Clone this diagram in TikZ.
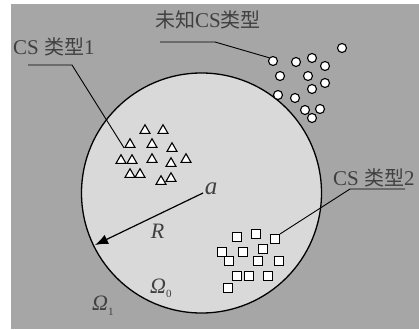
\documentclass[tikz,border=0pt]{standalone}
\usepackage{fontspec}
\setmainfont{Liberation Serif}
\newfontfamily\cjk{Noto Sans CJK SC}
\usetikzlibrary{arrows.meta}
\usetikzlibrary{shapes.geometric}

\begin{document}
\begin{tikzpicture}[x=1pt,y=-1pt,
    tri/.style={regular polygon,regular polygon sides=3,draw,fill=white,line width=1.1pt,inner sep=0pt,minimum size=11.5pt},
    sq/.style={rectangle,draw,fill=white,line width=1.1pt,inner sep=0pt,minimum size=9pt},
    dot/.style={circle,draw,fill=white,line width=1.1pt,inner sep=0pt,minimum size=9pt},
    lbl/.style={anchor=base west,inner sep=0pt,text=black!75,font=\fontsize{21}{24}\selectfont},
    sym/.style={inner sep=0pt,text=black!75,font=\fontsize{22}{26}\selectfont\itshape}]
    \useasboundingbox (0,0) rectangle (419,329);
    \fill[black!35] (11,4) rectangle (419,329);
    \draw[fill=black!15,line width=1.3pt] (201.5,193) circle (120);
    \foreach \i/\x/\y in {1/145/130.5,2/163/130.5,3/130/144.5,4/152/144.5,5/172/148.5,
        6/121/160.5,7/132/160.5,8/152/159.5,9/171/163.5,10/186/159.5,
        11/130/174.5,12/140/174.5,13/161/181.5,14/171/178.5}
      \node[tri] (t\i) at (\x,\y) {};
    \foreach \i/\x/\y in {1/273/61,2/296/62,3/312/58,4/325/66,5/342/48,6/280/76,7/308/76,
        8/325/83,9/312/89,10/278/95,11/295/98,12/305/110,13/320/109,14/312/118}
      \node[dot] (c\i) at (\x,\y) {};
    \foreach \i/\x/\y in {1/237/237,2/256/234,3/275/239,4/222/252,5/243/252,6/263/249,7/229/261,
        8/258/261,9/279/261,10/237/276,11/249/276,12/268/276,13/228/288}
      \node[sq] (s\i) at (\x,\y) {};
    \node[lbl] (type1) at (13,54) {CS {\cjk\fontsize{20}{24}\selectfont 类型}1};
    \node[lbl] (unknown) at (155,28) {{\cjk\fontsize{20}{24}\selectfont 未知}CS{\cjk\fontsize{20}{24}\selectfont 类型}};
    \node[lbl] (type2) at (333,185) {CS {\cjk\fontsize{20}{24}\selectfont 类型}2};
    \coordinate (u1) at (28,65);  \coordinate (k1) at (72,65);
    \coordinate (u2) at (160,42); \coordinate (k2) at (215,42);
    \coordinate (u3) at (405,189); \coordinate (k3) at (350,189);
    \draw[line width=0.9pt] (u1) -- (k1) -- (t3.corner 2);
    \draw[line width=0.9pt] (u2) -- (k2) -- (c1.140);
    \draw[line width=0.9pt] (u3) -- (k3) -- (s3.north east);
    \coordinate (o) at (203,193);
    \coordinate (rim) at (95,245);
    \draw[line width=1.2pt,-{Latex[length=13pt,width=10pt]}] (o) -- (rim);
    \node[sym,font=\fontsize{25}{28}\selectfont\itshape] (a) at (211,189) {a};
    \node[sym] (R) at (157.5,231) {R};
    \node[sym,anchor=base west] (om0) at (150,293) {Ω\raisebox{-4pt}{\fontsize{11}{12}\selectfont\upshape 0}};
    \node[sym,anchor=base west] (om1) at (92,310) {Ω\raisebox{-5pt}{\fontsize{11}{12}\selectfont\upshape 1}};
\end{tikzpicture}
\end{document}
